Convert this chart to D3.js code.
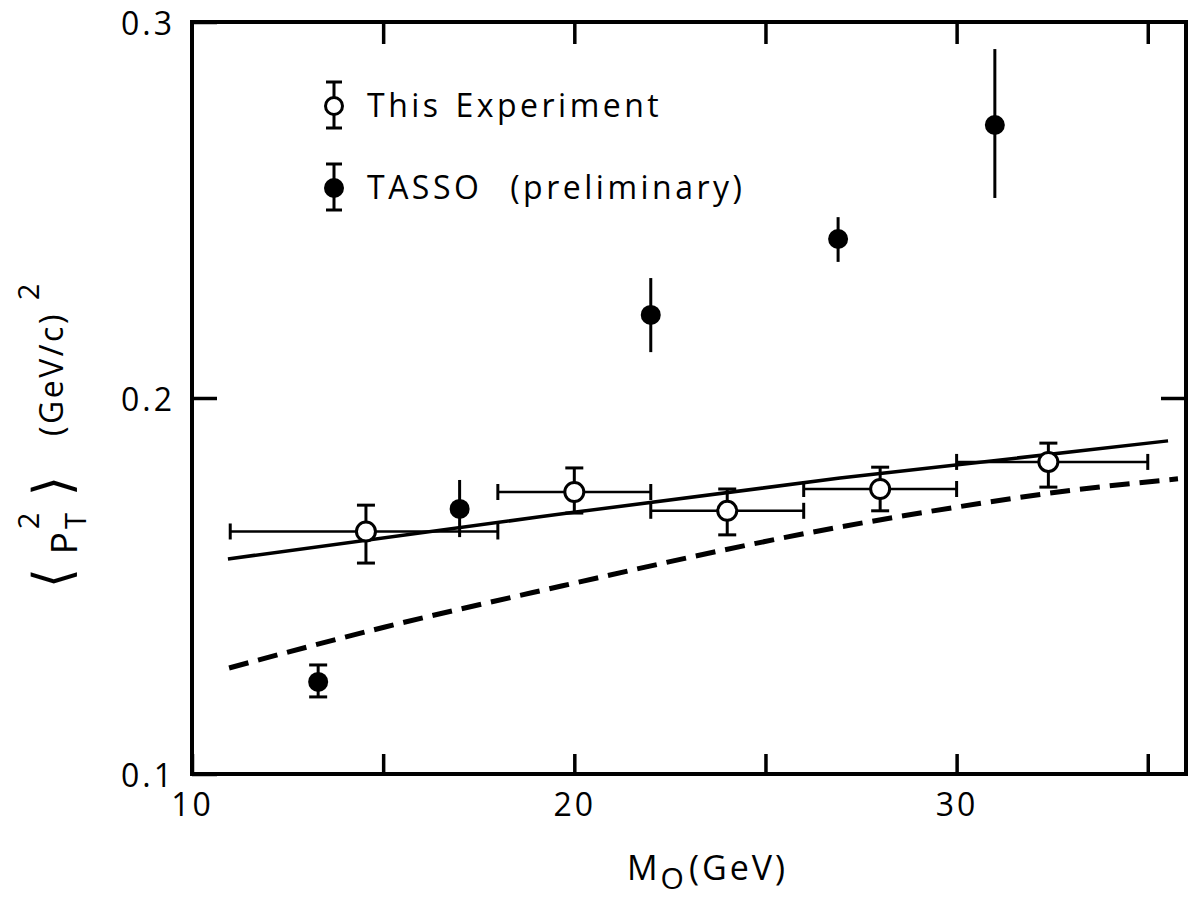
<!DOCTYPE html>
<html>
<head>
<meta charset="utf-8">
<script src="https://cdn.jsdelivr.net/npm/d3@7"></script>
<style>
  html, body { margin: 0; padding: 0; background: #fff; }
  svg { display: block; }
  text { font-family: "Open Sans", "DejaVu Sans", sans-serif; fill: #000; }
</style>
</head>
<body>
<svg id="chart" width="1188" height="902"></svg>
<script>
// Mass axis and <pT^2> axis
const xDomain = [10, 36];
const yDomain = [0.1, 0.3];
const xTickValues = [10, 15, 20, 25, 30, 35];
const xTickLabels = [10, 20, 30];
const yTickValues = [0.1, 0.2, 0.3];

// This experiment: open circles, with mass bins as horizontal bars
const expM     = [14.55, 20.0, 24.0, 28.0, 32.4];
const expPt2   = [0.1645, 0.1750, 0.1700, 0.1758, 0.1830];
const expPt2Lo = [0.1561, 0.1694, 0.1636, 0.1700, 0.1763];
const expPt2Hi = [0.1715, 0.1814, 0.1758, 0.1816, 0.1880];
const expMLo   = [11.0, 18.0, 22.0, 26.0, 30.0];
const expMHi   = [18.0, 22.0, 26.0, 30.0, 35.0];

// TASSO (preliminary): filled circles
const tassoM     = [13.3, 17.0, 22.0, 26.9, 31.0];
const tassoPt2   = [0.1245, 0.1705, 0.2221, 0.2423, 0.2726];
const tassoPt2Lo = [0.1205, 0.1630, 0.2122, 0.2362, 0.2532];
const tassoPt2Hi = [0.1290, 0.1782, 0.2319, 0.2481, 0.2928];

// Model curves
const solidM   = [10.94, 19.10, 26.95, 35.53];
const solidPt2 = [0.1572, 0.1684, 0.1787, 0.1886];
const dashM    = [10.97, 15.05, 19.10, 26.95, 30.01, 33.04, 35.79];
const dashPt2  = [0.1282, 0.1391, 0.1487, 0.1657, 0.1710, 0.1755, 0.1785];

const legendLabels = ["This Experiment", "TASSO (preliminary)"];

const svg = d3.select("#chart");
const plotLeft = 192, plotRight = 1186, plotTop = 22, plotBottom = 774;
const x = d3.scaleLinear(xDomain, [plotLeft, plotRight]);
const y = d3.scaleLinear(yDomain, [plotBottom, plotTop]);

const ink = "#000";

// frame
svg.append("rect")
  .attr("x", plotLeft).attr("y", plotTop)
  .attr("width", plotRight - plotLeft).attr("height", plotBottom - plotTop)
  .attr("fill", "none").attr("stroke", ink).attr("stroke-width", 4);

function styleAxis(g) {
  g.select(".domain").remove();
  g.selectAll(".tick line").attr("stroke", ink).attr("stroke-width", 3.5);
  g.selectAll(".tick text").attr("font-size", 32).attr("fill", ink)
    .attr("letter-spacing", 3)
    .style("font-family", "'Open Sans', sans-serif");
}

// bottom axis, ticks pointing inward
svg.append("g")
  .attr("transform", `translate(0,${plotBottom})`)
  .call(d3.axisBottom(x).tickValues(xTickValues).tickSize(-20).tickPadding(19)
    .tickFormat(d => xTickLabels.includes(d) ? d3.format("d")(d) : ""))
  .call(styleAxis);

// top axis, ticks only
svg.append("g")
  .attr("transform", `translate(0,${plotTop})`)
  .call(d3.axisTop(x).tickValues(xTickValues.slice(1)).tickSize(-22).tickFormat(""))
  .call(styleAxis);

// left axis
svg.append("g")
  .attr("transform", `translate(${plotLeft},0)`)
  .call(d3.axisLeft(y).tickValues(yTickValues).tickSize(-25).tickPadding(17)
    .tickFormat(d3.format(".1f")))
  .call(styleAxis)
  .call(g => g.selectAll(".tick text").attr("dy", "0.4em"));

// right axis, ticks only
svg.append("g")
  .attr("transform", `translate(${plotRight},0)`)
  .call(d3.axisRight(y).tickValues([0.2]).tickSize(-25).tickFormat(""))
  .call(styleAxis);

// model curves
const line = d3.line().x(d => x(d[0])).y(d => y(d[1])).curve(d3.curveMonotoneX);
svg.append("path")
  .attr("d", line(d3.zip(solidM, solidPt2)))
  .attr("fill", "none").attr("stroke", ink).attr("stroke-width", 3.5);
svg.append("path")
  .attr("d", line(d3.zip(dashM, dashPt2)))
  .attr("fill", "none").attr("stroke", ink).attr("stroke-width", 5)
  .attr("stroke-dasharray", "20 10");

const capW = 9, capH = 8, r = 9.5;

function vBar(g, xv, lo, hi, caps) {
  g.append("line").attr("x1", x(xv)).attr("x2", x(xv))
    .attr("y1", y(lo)).attr("y2", y(hi))
    .attr("stroke", ink).attr("stroke-width", 3);
  if (caps) {
    [lo, hi].forEach(v => g.append("line")
      .attr("x1", x(xv) - capW).attr("x2", x(xv) + capW)
      .attr("y1", y(v)).attr("y2", y(v))
      .attr("stroke", ink).attr("stroke-width", 3));
  }
}

// this experiment: bins and errors
const expG = svg.append("g");
expM.forEach((m, i) => {
  expG.append("line")
    .attr("x1", x(expMLo[i])).attr("x2", x(expMHi[i]))
    .attr("y1", y(expPt2[i])).attr("y2", y(expPt2[i]))
    .attr("stroke", ink).attr("stroke-width", 2.5);
  [expMLo[i], expMHi[i]].forEach(e => expG.append("line")
    .attr("x1", x(e)).attr("x2", x(e))
    .attr("y1", y(expPt2[i]) - capH).attr("y2", y(expPt2[i]) + capH)
    .attr("stroke", ink).attr("stroke-width", 3));
  vBar(expG, m, expPt2Lo[i], expPt2Hi[i], true);
});
expG.selectAll("circle").data(d3.zip(expM, expPt2)).join("circle")
  .attr("cx", d => x(d[0])).attr("cy", d => y(d[1])).attr("r", r)
  .attr("fill", "#fff").attr("stroke", ink).attr("stroke-width", 3);

// TASSO: short errors carry end caps
const tassoG = svg.append("g");
tassoM.forEach((m, i) => {
  vBar(tassoG, m, tassoPt2Lo[i], tassoPt2Hi[i], (tassoPt2Hi[i] - tassoPt2Lo[i]) < 0.01);
});
tassoG.selectAll("circle").data(d3.zip(tassoM, tassoPt2)).join("circle")
  .attr("cx", d => x(d[0])).attr("cy", d => y(d[1])).attr("r", r + 0.5)
  .attr("fill", ink);

// legend
const legend = svg.append("g");
const legendRows = [
  { cy: 106, open: true, wordGap: 2 },
  { cy: 188, open: false, wordGap: 16 }
];
legendRows.forEach((row, i) => {
  const lx = 334;
  legend.append("line").attr("x1", lx).attr("x2", lx)
    .attr("y1", row.cy - 24).attr("y2", row.cy + 22)
    .attr("stroke", ink).attr("stroke-width", 3);
  [row.cy - 24, row.cy + 22].forEach(cy => legend.append("line")
    .attr("x1", lx - 8).attr("x2", lx + 8).attr("y1", cy).attr("y2", cy)
    .attr("stroke", ink).attr("stroke-width", 3));
  legend.append("circle").attr("cx", lx).attr("cy", row.cy).attr("r", 8.5)
    .attr("fill", row.open ? "#fff" : ink)
    .attr("stroke", ink).attr("stroke-width", 3);
  legend.append("text")
    .attr("x", 367).attr("y", row.cy + 11)
    .attr("font-size", 32).attr("letter-spacing", 3.5).attr("word-spacing", row.wordGap)
    .text(legendLabels[i]);
});

// x-axis title
const xt = svg.append("text")
  .attr("x", 627).attr("y", 880)
  .attr("font-size", 34).attr("letter-spacing", 3);
xt.append("tspan").text("M");
xt.append("tspan").attr("dy", 9).attr("font-size", 30).text("O");
xt.append("tspan").attr("dy", -9).attr("dx", 2).text("(GeV)");

// y-axis title: each piece rotated to read upward, placed by its centre
const yTitleParts = [
  { t: "⟨",       cy: 578, bx: 70, size: 52, font: "DejaVu Sans" },
  { t: "P",       cy: 543, bx: 77, size: 37 },
  { t: "2",       cy: 521, bx: 39, size: 29 },
  { t: "T",       cy: 521, bx: 86, size: 29 },
  { t: "⟩",       cy: 486, bx: 70, size: 52, font: "DejaVu Sans" },
  { t: "(GeV/c)", cy: 374, bx: 63, size: 32, spacing: 2.5 },
  { t: "2",       cy: 292, bx: 39, size: 29 }
];
yTitleParts.forEach(p => {
  svg.append("text")
    .attr("transform", `translate(${p.bx},${p.cy}) rotate(-90)`)
    .attr("text-anchor", "middle")
    .attr("font-size", p.size)
    .attr("letter-spacing", p.spacing || 0)
    .style("font-family", p.font ? `'${p.font}', sans-serif` : null)
    .text(p.t);
});
</script>
</body>
</html>
